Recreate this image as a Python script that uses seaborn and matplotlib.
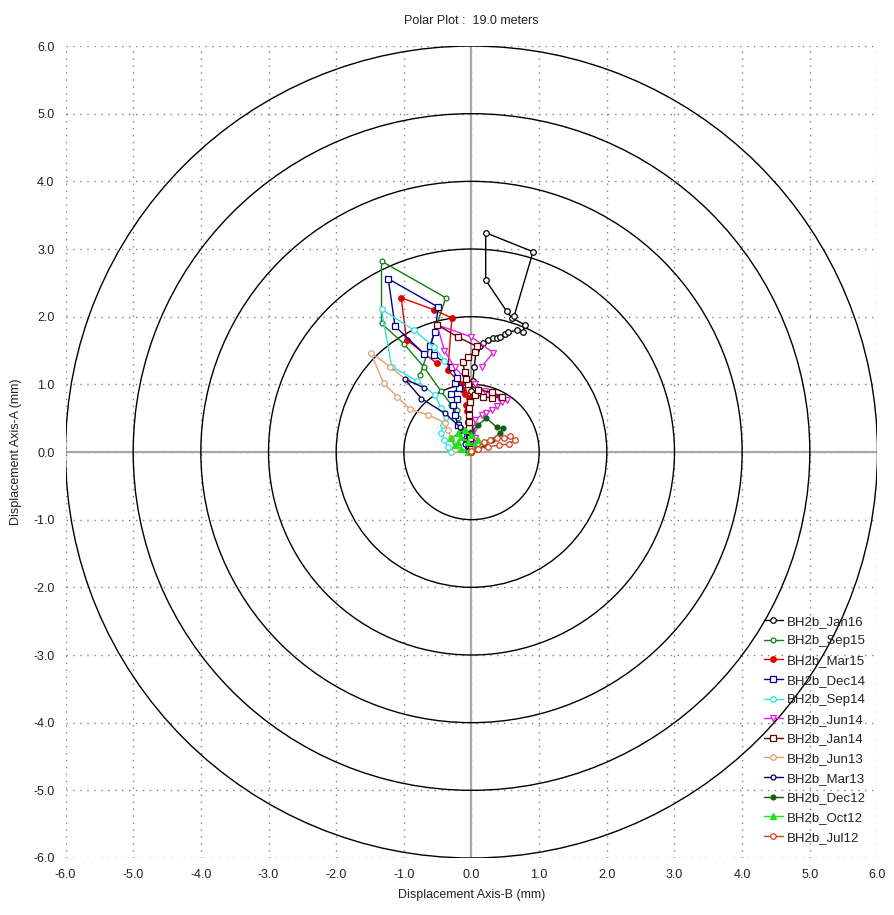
import matplotlib
matplotlib.use("Agg")
import matplotlib.pyplot as plt
from matplotlib.patches import Circle
import numpy as np
import pandas as pd
import seaborn as sns

sns.set_theme(style="white")
plt.rcParams["font.family"] = ["Liberation Sans", "DejaVu Sans"]

# Cumulative displacement profiles (Axis-B, Axis-A) in mm, bottom of hole first
JAN16_B = [0.00, -0.02, -0.04, -0.05, -0.04, -0.02, 0.00, 0.02, 0.04, 0.07, 0.12, 0.17, 0.25, 0.32, 0.38, 0.42, 0.49, 0.54, 0.67, 0.76, 0.79, 0.60, 0.52, 0.21, 0.21, 0.91, 0.63]
JAN16_A = [0.00, 0.15, 0.30, 0.45, 0.60, 0.75, 0.90, 1.05, 1.25, 1.51, 1.57, 1.61, 1.65, 1.68, 1.69, 1.70, 1.74, 1.77, 1.80, 1.77, 1.88, 1.98, 2.08, 2.54, 3.24, 2.96, 2.01]

SEP15_B = [-0.05, -0.10, -0.15, -0.20, -0.22, -0.30, -0.45, -0.70, -1.00, -1.33, -1.33, -0.38, -0.76]
SEP15_A = [0.05, 0.20, 0.35, 0.50, 0.62, 0.70, 0.90, 1.25, 1.60, 1.90, 2.82, 2.28, 1.14]

MAR15_B = [0.00, -0.02, -0.05, -0.06, -0.08, -0.04, -0.10, -0.12, -0.15, -0.35, -0.29, -0.55, -1.04, -0.96, -0.51]
MAR15_A = [0.00, 0.20, 0.45, 0.60, 0.70, 0.80, 0.85, 0.92, 1.00, 1.21, 1.98, 2.10, 2.28, 1.66, 1.31]

DEC14_B = [-0.05, -0.12, -0.20, -0.25, -0.28, -0.22, -0.30, -0.18, -0.25, -0.22, -0.29, -0.56, -0.61, -0.54, -0.49, -1.23, -1.13, -0.70]
DEC14_A = [0.10, 0.25, 0.40, 0.55, 0.70, 0.78, 0.85, 0.95, 1.02, 1.10, 1.26, 1.43, 1.56, 1.78, 2.14, 2.56, 1.86, 1.45]

SEP14_B = [-0.30, -0.35, -0.40, -0.45, -0.42, -0.38, -0.45, -0.54, -0.80, -1.18, -1.33, -0.85, -0.55, -0.40]
SEP14_A = [0.00, 0.08, 0.18, 0.28, 0.40, 0.52, 0.65, 0.84, 1.05, 1.26, 2.11, 1.80, 1.55, 1.35]

JUN14_B = [0.02, 0.05, 0.05, 0.05, 0.15, 0.22, 0.30, 0.38, 0.45, 0.52, 0.40, 0.20, 0.05, -0.10, -0.25, -0.40, -0.51, 0.00, 0.32, 0.15]
JUN14_A = [0.05, 0.20, 0.35, 0.47, 0.55, 0.58, 0.62, 0.68, 0.74, 0.77, 0.80, 0.90, 1.00, 1.10, 1.25, 1.50, 1.88, 1.70, 1.47, 1.26]

JAN14_B = [0.00, -0.02, -0.03, -0.04, -0.04, -0.03, -0.02, 0.05, 0.17, 0.30, 0.45, 0.30, 0.10, -0.05, -0.08, -0.10, -0.13, -0.05, 0.05, 0.08, -0.20, -0.51]
JAN14_A = [0.05, 0.20, 0.35, 0.45, 0.55, 0.65, 0.74, 0.84, 0.82, 0.80, 0.82, 0.88, 0.92, 1.00, 1.08, 1.18, 1.33, 1.41, 1.48, 1.56, 1.70, 1.88]

JUN13_B = [-0.25, -0.30, -0.35, -0.39, -0.64, -0.91, -1.10, -1.30, -1.49, -1.20, -0.95]
JUN13_A = [0.05, 0.20, 0.32, 0.43, 0.55, 0.63, 0.82, 1.02, 1.47, 1.26, 1.05]

MAR13_B = [-0.05, -0.10, -0.14, -0.17, -0.39, -0.74, -0.99, -0.70]
MAR13_A = [0.02, 0.12, 0.25, 0.37, 0.57, 0.79, 1.08, 0.95]

DEC12_B = [0.00, 0.10, 0.20, 0.30, 0.42, 0.47, 0.37, 0.22, 0.10, 0.00]
DEC12_A = [0.00, 0.05, 0.10, 0.18, 0.28, 0.35, 0.37, 0.50, 0.40, 0.30]

OCT12_B = [-0.05, -0.15, -0.25, -0.30, -0.20, -0.10, 0.00, 0.10, 0.05, -0.05, -0.15, -0.20]
OCT12_A = [0.00, 0.05, 0.10, 0.20, 0.28, 0.32, 0.25, 0.18, 0.10, 0.15, 0.22, 0.15]

JUL12_B = [0.00, 0.08, 0.18, 0.28, 0.38, 0.48, 0.57, 0.64, 0.55, 0.40, 0.25, 0.10, 0.00]
JUL12_A = [0.00, 0.05, 0.15, 0.18, 0.20, 0.20, 0.23, 0.18, 0.12, 0.10, 0.08, 0.05, 0.02]

SERIES = ["BH2b_Jan16", "BH2b_Sep15", "BH2b_Mar15", "BH2b_Dec14", "BH2b_Sep14", "BH2b_Jun14",
          "BH2b_Jan14", "BH2b_Jun13", "BH2b_Mar13", "BH2b_Dec12", "BH2b_Oct12", "BH2b_Jul12"]
B_VALUES = [JAN16_B, SEP15_B, MAR15_B, DEC14_B, SEP14_B, JUN14_B, JAN14_B, JUN13_B, MAR13_B, DEC12_B, OCT12_B, JUL12_B]
A_VALUES = [JAN16_A, SEP15_A, MAR15_A, DEC14_A, SEP14_A, JUN14_A, JAN14_A, JUN13_A, MAR13_A, DEC12_A, OCT12_A, JUL12_A]

COLORS = ["#000000", "#108010", "#e00000", "#000090", "#30e0e0", "#e020e0",
          "#600000", "#e0a070", "#000060", "#106010", "#20e020", "#d04020"]
MARKERS = ["o", "o", "o", "s", "o", "v", "s", "o", "o", "o", "^", "o"]
FILLED = [False, False, True, False, False, False, False, False, False, True, True, False]
MSIZE = [4, 3.5, 4, 5, 4, 5, 5, 4, 3.5, 3.5, 4.5, 4]

RINGS = [1, 2, 3, 4, 5, 6]
TICKS = [-6, -5, -4, -3, -2, -1, 0, 1, 2, 3, 4, 5, 6]

fig = plt.figure(figsize=(8.94, 9.15), dpi=100)
ax = fig.add_axes([0.0727, 0.0623, 0.9094, 0.8874])

# Reference rings
for r in RINGS:
    ax.add_patch(Circle((0, 0), r, fill=False, edgecolor="black", linewidth=1.0, zorder=2))

ax.axhline(0, color="#a8a8a8", linewidth=1.6, zorder=1)
ax.axvline(0, color="#a8a8a8", linewidth=1.6, zorder=1)

for name, bx, ay, col, mk, filled, ms in zip(SERIES, B_VALUES, A_VALUES, COLORS, MARKERS, FILLED, MSIZE):
    df = pd.DataFrame({"B": bx, "A": ay})
    sns.lineplot(data=df, x="B", y="A", sort=False, estimator=None, ax=ax,
                 color=col, linewidth=1.0, marker=mk, markersize=ms,
                 markeredgecolor=col, markeredgewidth=0.9,
                 markerfacecolor=(col if filled else "white"),
                 label=name, zorder=3)

ax.set_xlim(-6, 6)
ax.set_ylim(-6, 6)
ax.set_aspect("equal", adjustable="box")
ax.set_xticks(TICKS)
ax.set_yticks(TICKS)
ax.set_xticklabels([f"{t:.1f}" for t in TICKS])
ax.set_yticklabels([f"{t:.1f}" for t in TICKS])
ax.tick_params(length=0, labelsize=9, colors="#222222", pad=8)
ax.grid(True, color="#808080", linestyle=(0, (1, 4)), linewidth=1.0)
for s in ax.spines.values():
    s.set_visible(False)

ax.set_xlabel("Displacement Axis-B (mm)", fontsize=9, color="#222222", labelpad=6)
ax.set_ylabel("Displacement Axis-A (mm)", fontsize=9, color="#222222", labelpad=8)
ax.set_title("Polar Plot :  19.0 meters", fontsize=9, color="#222222", pad=16)

leg = ax.legend(loc="lower right", bbox_to_anchor=(0.995, 0.008), frameon=False,
                fontsize=9.5, handlelength=1.4, handletextpad=0.3, labelspacing=0.56,
                borderaxespad=0.2)
for t in leg.get_texts():
    t.set_color("#222222")

fig.savefig("out.png", dpi=100)
